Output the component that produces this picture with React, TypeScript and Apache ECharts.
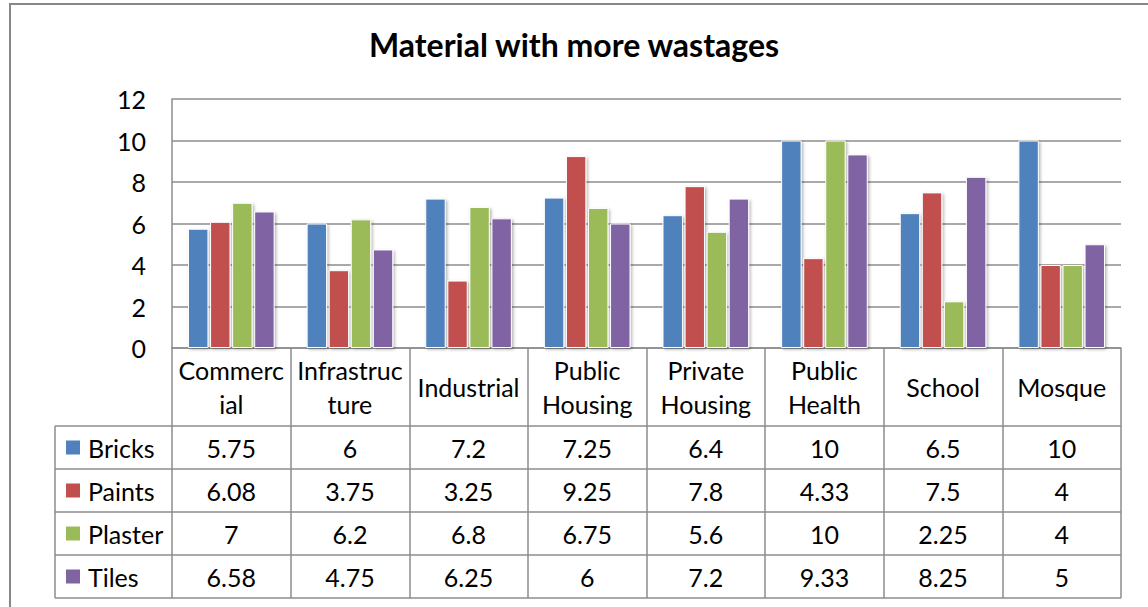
import React, { useEffect, useRef } from "react";
import * as echarts from "echarts";

const categories = ["Commercial", "Infrastructure", "Industrial", "Public Housing", "Private Housing", "Public Health", "School", "Mosque"];
const categoryLabels = ["Commerc\nial", "Infrastruc\nture", "Industrial", "Public\nHousing", "Private\nHousing", "Public\nHealth", "School", "Mosque"];
const seriesNames = ["Bricks", "Paints", "Plaster", "Tiles"];
const bricks = [5.75, 6, 7.2, 7.25, 6.4, 10, 6.5, 10];
const paints = [6.08, 3.75, 3.25, 9.25, 7.8, 4.33, 7.5, 4];
const plaster = [7, 6.2, 6.8, 6.75, 5.6, 10, 2.25, 4];
const tiles = [6.58, 4.75, 6.25, 6, 7.2, 9.33, 8.25, 5];
const seriesData = [bricks, paints, plaster, tiles];
const colors = ["#4F81BD", "#C0504D", "#9BBB59", "#8064A2"];
const title = "Material with more wastages";

const FONT = "Lato";
const FS = 25;
const GRID_LEFT = 172;
const GRID_RIGHT_EDGE = 1121;
const GRID_TOP = 99;
const GRID_BOTTOM_Y = 348;
const HEADER_H = 78;
const ROW_H = 43;
const TABLE_LEFT = 55;
const LINE = "#8c8c8c";

export default function App() {
  const ref = useRef<HTMLDivElement>(null);
  useEffect(() => {
    if (!ref.current) return;
    const chart = echarts.init(ref.current, undefined, { renderer: "svg" });
    const option: any = {
      animation: false,
      backgroundColor: "#ffffff",
      title: {
        text: title,
        left: "center",
        top: 28,
        padding: [0, 0, 0, 24],
        textStyle: { fontFamily: FONT, fontWeight: "bold", fontSize: 32, color: "#000" },
      },
      grid: {
        left: GRID_LEFT,
        right: 1148 - GRID_RIGHT_EDGE,
        top: GRID_TOP,
        bottom: 607 - GRID_BOTTOM_Y,
        containLabel: false,
      },
      xAxis: {
        type: "category",
        data: categories,
        axisLine: { show: true, lineStyle: { color: LINE, width: 1.5 } },
        axisTick: { show: true, length: HEADER_H + ROW_H * 4, lineStyle: { color: LINE, width: 1.5 } },
        axisLabel: {
          interval: 0,
          margin: HEADER_H / 2,
          verticalAlign: "middle",
          fontFamily: FONT,
          fontSize: FS,
          lineHeight: 34,
          color: "#000",
          formatter: (_v: string, i: number) => categoryLabels[i],
        },
      },
      yAxis: {
        type: "value",
        min: 0,
        max: 12,
        interval: 2,
        axisLine: { show: true, lineStyle: { color: LINE, width: 1.5 } },
        axisTick: { show: false },
        splitLine: { show: true, lineStyle: { color: LINE, width: 1.5 } },
        axisLabel: { margin: 26, fontFamily: FONT, fontSize: FS, color: "#000" },
      },
      series: seriesNames.map((name, k) => ({
        name,
        type: "bar",
        data: seriesData[k],
        barGap: "8%",
        barCategoryGap: "27%",
        itemStyle: {
          color: colors[k],
          borderColor: "#ffffff",
          borderWidth: 1,
          shadowBlur: 3,
          shadowOffsetX: 1.5,
          shadowOffsetY: 1.5,
          shadowColor: "rgba(0,0,0,0.3)",
        },
      })),
    };
    chart.setOption(option);

    const centers = categories.map((c) => chart.convertToPixel({ xAxisIndex: 0 }, c) as number);
    const tableTop = GRID_BOTTOM_Y + HEADER_H;
    const elements: any[] = [];
    elements.push({
      type: "rect",
      shape: { x: 10, y: 4, width: 1300, height: 800 },
      style: { fill: "none", stroke: "#878787", lineWidth: 2 },
      silent: true,
    });
    for (let r = 0; r <= seriesNames.length; r++) {
      const y = tableTop + r * ROW_H;
      elements.push({
        type: "line",
        shape: { x1: TABLE_LEFT, y1: y, x2: GRID_RIGHT_EDGE, y2: y },
        style: { stroke: LINE, lineWidth: 1.5 },
      });
    }
    elements.push({
      type: "line",
      shape: { x1: TABLE_LEFT, y1: tableTop, x2: TABLE_LEFT, y2: tableTop + ROW_H * seriesNames.length },
      style: { stroke: LINE, lineWidth: 1.5 },
    });
    seriesNames.forEach((name, k) => {
      const cy = tableTop + k * ROW_H + ROW_H / 2;
      elements.push({
        type: "rect",
        shape: { x: 66, y: cy - 7, width: 14, height: 14 },
        style: { fill: colors[k] },
      });
      elements.push({
        type: "text",
        x: 88,
        y: cy,
        style: { text: name, fontFamily: FONT, fontSize: FS, fill: "#000", textVerticalAlign: "middle", textAlign: "left" },
      });
      seriesData[k].forEach((v, i) => {
        elements.push({
          type: "text",
          x: centers[i],
          y: cy,
          style: { text: String(v), fontFamily: FONT, fontSize: FS, fill: "#000", textVerticalAlign: "middle", textAlign: "center" },
        });
      });
    });
    chart.setOption({ graphic: { elements } });

    return () => chart.dispose();
  }, []);
  return <div ref={ref} style={{ position: "fixed", left: 0, top: 0, width: 1148, height: 607, background: "#fff" }} />;
}
